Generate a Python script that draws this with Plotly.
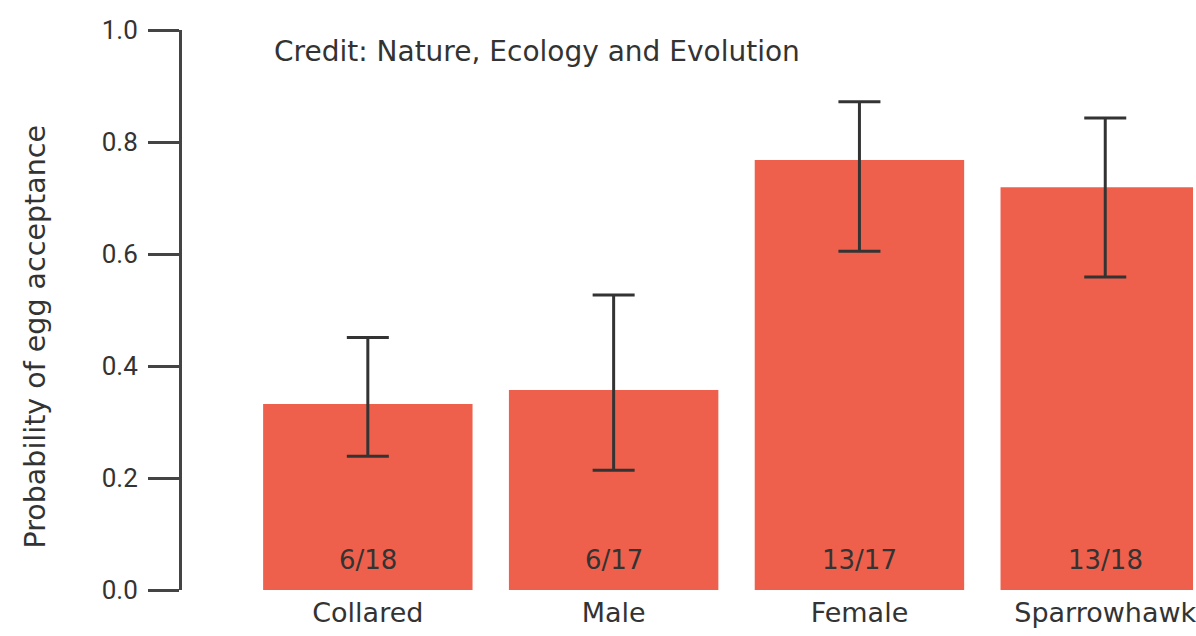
import plotly.graph_objects as go

categories = ["Collared", "Male", "Female", "Sparrowhawk"]
acceptance = [0.332, 0.357, 0.768, 0.719]
ci_upper = [0.451, 0.527, 0.872, 0.843]
ci_lower = [0.239, 0.214, 0.605, 0.559]
counts = ["6/18", "6/17", "13/17", "13/18"]
y_ticks = [0.0, 0.2, 0.4, 0.6, 0.8, 1.0]
y_tick_labels = ["0.0", "0.2", "0.4", "0.6", "0.8", "1.0"]

FONT = "DejaVu Sans"
TICKFONT = "Roboto"
TEXT = "#333333"
BAR = "#EE604B"

err_plus = [u - v for u, v in zip(ci_upper, acceptance)]
err_minus = [v - l for v, l in zip(acceptance, ci_lower)]

fig = go.Figure()
fig.add_trace(go.Bar(
    x=categories,
    y=acceptance,
    marker=dict(color=BAR, line=dict(width=0)),
    error_y=dict(type="data", symmetric=False, array=err_plus, arrayminus=err_minus,
                 color="#333333", thickness=3, width=21),
    hoverinfo="skip",
))

for c, t in zip(categories, counts):
    fig.add_annotation(x=c, y=0, xref="x", yref="y", text=t, showarrow=False,
                       yanchor="bottom", yshift=13,
                       font=dict(family=FONT, size=26, color=TEXT))

fig.add_annotation(x=(272 - 182) / 1014, y=(590 - 52) / 560, xref="paper", yref="paper",
                   text="Credit: Nature, Ecology and Evolution", showarrow=False,
                   xanchor="left", yanchor="middle",
                   font=dict(family=FONT, size=28, color=TEXT))

fig.add_annotation(x=(35 - 182) / 1014, y=(590 - 337) / 560, xref="paper", yref="paper",
                   text="Probability of egg acceptance", textangle=-90, showarrow=False,
                   xanchor="center", yanchor="middle",
                   font=dict(family=FONT, size=28.5, color=TEXT))

fig.update_layout(
    width=1196, height=636,
    margin=dict(l=182, r=0, t=30, b=46, pad=0),
    paper_bgcolor="white", plot_bgcolor="white",
    showlegend=False,
    bargap=0.148,
    font=dict(family=FONT, size=26, color=TEXT),
    xaxis=dict(range=[-0.756, 3.357], showline=False, showgrid=False, zeroline=False,
               ticks="", ticklabelstandoff=4,
               tickfont=dict(family=FONT, size=27, color=TEXT)),
    yaxis=dict(range=[0, 1], tickvals=y_ticks, ticktext=y_tick_labels,
               showline=True, linecolor="#444444", linewidth=3,
               ticks="outside", ticklen=31, tickwidth=3, tickcolor="#444444",
               ticklabelstandoff=5,
               showgrid=False, zeroline=False,
               tickfont=dict(family=TICKFONT, size=26, color=TEXT)),
)

fig.write_html("out.html")
